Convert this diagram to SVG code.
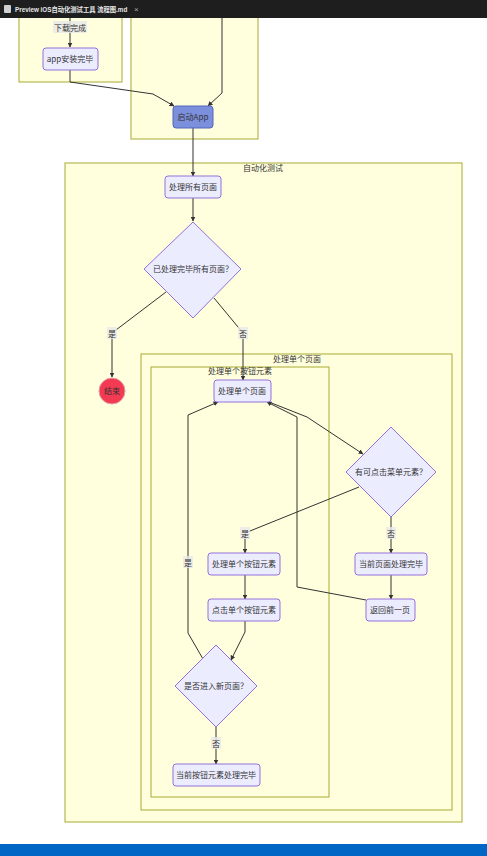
<svg xmlns="http://www.w3.org/2000/svg" width="487" height="856" viewBox="0 0 487 856">
<style>
.cl{fill:#ffffde;stroke:#aaaa33;stroke-width:1}
.nd{fill:#ececff;stroke:#9370db;stroke-width:1}
.t{font-family:"Noto Sans CJK SC","Liberation Sans",sans-serif;font-size:8px;fill:#333;text-anchor:middle;dominant-baseline:central}
.e{fill:none;stroke:#333;stroke-width:1}
.lb{fill:#e8e8e8;opacity:0.8}
</style>
<defs>
<marker id="ah" viewBox="0 0 10 10" refX="9" refY="5" markerWidth="5" markerHeight="5" orient="auto">
<path d="M0,0 L10,5 L0,10 z" fill="#333"/>
</marker>
</defs>
<rect width="487" height="856" fill="#ffffff"/>
<g id="clusters">
<rect class="cl" x="19" y="10" width="103" height="72"/>
<rect class="cl" x="131" y="10" width="127" height="129"/>
<rect class="cl" x="65" y="163" width="397" height="659"/>
<text class="t" x="263" y="167">自动化测试</text>
<rect class="cl" x="141" y="354" width="311" height="456"/>
<text class="t" x="297" y="358">处理单个页面</text>
<rect class="cl" x="151" y="367" width="178" height="430"/>
<text class="t" x="240" y="370">处理单个按钮元素</text>
</g>
<g id="connectors">
<path class="e" d="M70,18 V47" marker-end="url(#ah)"/>
<rect class="lb" x="53" y="21" width="34" height="12"/>
<text class="t" x="70" y="27">下载完成</text>
<path class="e" d="M70,70 V82 L153,94 L174,106" marker-end="url(#ah)"/>
<path class="e" d="M222,18 V93 L208,106" marker-end="url(#ah)"/>
<path class="e" d="M193,128 V176" marker-end="url(#ah)"/>
<path class="e" d="M193,198 V221" marker-end="url(#ah)"/>
<path class="e" d="M166,292 L112,333 V377" marker-end="url(#ah)"/>
<rect class="lb" x="107" y="327" width="10" height="12"/>
<text class="t" x="112" y="333">是</text>
<path class="e" d="M214,298 L243,333 V380" marker-end="url(#ah)"/>
<rect class="lb" x="238" y="327" width="10" height="12"/>
<text class="t" x="243" y="333">否</text>
<path class="e" d="M269,402 L307,417 L363,454" marker-end="url(#ah)"/>
<path class="e" d="M366,600 L297,587 V417 L267,402" marker-end="url(#ah)"/>
<path class="e" d="M359,487 L245,533 V553" marker-end="url(#ah)"/>
<rect class="lb" x="240" y="527" width="10" height="12"/>
<text class="t" x="245" y="533">是</text>
<path class="e" d="M391,517 V553" marker-end="url(#ah)"/>
<rect class="lb" x="386" y="527" width="10" height="12"/>
<text class="t" x="391" y="533">否</text>
<path class="e" d="M391,575 V599" marker-end="url(#ah)"/>
<path class="e" d="M245,575 V599" marker-end="url(#ah)"/>
<path class="e" d="M245,621 V632 L231,660" marker-end="url(#ah)"/>
<path class="e" d="M203,659 L188,633 V415 L218,402" marker-end="url(#ah)"/>
<rect class="lb" x="183" y="556" width="10" height="12"/>
<text class="t" x="188" y="562">是</text>
<path class="e" d="M216,727 V764" marker-end="url(#ah)"/>
<rect class="lb" x="211" y="737" width="10" height="12"/>
<text class="t" x="216" y="743">否</text>
</g>
<g id="n-install">
<rect class="nd" x="43" y="48" width="55" height="22" rx="3"/>
<text class="t" x="70" y="58">app安装完毕</text>
</g>
<g id="n-launch">
<rect x="173" y="106" width="40" height="22" rx="3" fill="#7b8fdd" stroke="#5566bb"/>
<text class="t" x="193" y="116">启动App</text>
</g>
<g id="n-allpages">
<rect class="nd" x="165" y="176" width="56" height="22" rx="3"/>
<text class="t" x="193" y="186">处理所有页面</text>
</g>
<g id="n-done-all">
<polygon class="nd" points="193,222 241,269 193,318 144,269"/>
<text class="t" x="193" y="268">已处理完毕所有页面？</text>
</g>
<g id="n-end">
<circle cx="112" cy="391" r="13" fill="#f23a52" stroke="#e0a0a8"/>
<text class="t" x="112" y="390">结束</text>
</g>
<g id="n-page">
<rect class="nd" x="214" y="380" width="57" height="22" rx="3"/>
<text class="t" x="242" y="390">处理单个页面</text>
</g>
<g id="n-has-click">
<polygon class="nd" points="391,427 436,472 391,517 346,472"/>
<text class="t" x="391" y="471">有可点击菜单元素？</text>
</g>
<g id="n-page-done">
<rect class="nd" x="355" y="553" width="72" height="22" rx="3"/>
<text class="t" x="391" y="563">当前页面处理完毕</text>
</g>
<g id="n-back">
<rect class="nd" x="366" y="599" width="49" height="22" rx="3"/>
<text class="t" x="390" y="609">返回前一页</text>
</g>
<g id="n-button">
<rect class="nd" x="208" y="553" width="72" height="22" rx="3"/>
<text class="t" x="244" y="563">处理单个按钮元素</text>
</g>
<g id="n-click">
<rect class="nd" x="208" y="599" width="72" height="22" rx="3"/>
<text class="t" x="244" y="609">点击单个按钮元素</text>
</g>
<g id="n-newpage">
<polygon class="nd" points="216,645 257,686 216,727 175,686"/>
<text class="t" x="216" y="685">是否进入新页面？</text>
</g>
<g id="n-button-done">
<rect class="nd" x="173" y="764" width="87" height="22" rx="3"/>
<text class="t" x="216" y="774">当前按钮元素处理完毕</text>
</g>
<g id="chrome">
<rect x="0" y="0" width="487" height="18" fill="#1e1e1e"/>
<rect x="4" y="5" width="7" height="8" rx="1" fill="#d0d0d0"/>
<text x="15" y="9.5" font-family="'Liberation Sans','Noto Sans CJK SC',sans-serif" font-size="6.3" font-weight="bold" fill="#e8e8e8" dominant-baseline="central">Preview iOS自动化测试工具 流程图.md</text>
<text x="134" y="9.5" font-family="'Liberation Sans',sans-serif" font-size="8" fill="#aaaaaa" dominant-baseline="central">×</text>
<rect x="0" y="844" width="487" height="12" fill="#0066c6"/>
</g>
</svg>
